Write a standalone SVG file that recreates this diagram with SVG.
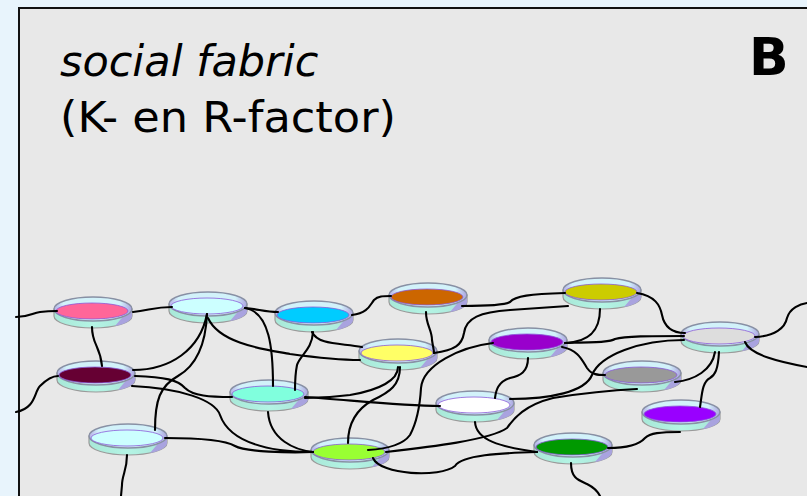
<svg xmlns="http://www.w3.org/2000/svg" width="807" height="496" viewBox="0 0 807 496">
<style>
.t{font-family:"DejaVu Sans",Verdana,sans-serif;font-size:43px;fill:#000}
.b{font-family:"DejaVu Sans",Verdana,sans-serif;font-size:52px;font-weight:bold;fill:#000}
.c path{fill:none;stroke:#000;stroke-width:2.1;stroke-linecap:round}
.in{stroke:#8a5ad8;stroke-width:0.8}
</style>
<defs>
<linearGradient id="teal" x1="0" y1="0" x2="1" y2="0">
<stop offset="0" stop-color="#a8e8d8"/><stop offset="0.5" stop-color="#b4f4e4"/><stop offset="1" stop-color="#a8e4d8"/>
</linearGradient>
<linearGradient id="rim" x1="0" y1="0" x2="1" y2="0">
<stop offset="0" stop-color="#b4ace6"/><stop offset="0.12" stop-color="#d2f2fa"/><stop offset="0.85" stop-color="#d2f2fa"/><stop offset="1" stop-color="#aaa2e0"/>
</linearGradient>
<g id="dish">
<path d="M-39,-2 L-39,5 A39,12 0 0 0 39,5 L39,-2 Z" fill="url(#teal)" stroke="#9a9a9a" stroke-width="1.2"/>
<path d="M22,15 A39,12 0 0 0 39,5 L39,-2 L33,2 Z" fill="#a9a3df"/>
<ellipse cx="0" cy="-2" rx="39" ry="12" fill="url(#rim)" stroke="#8890a4" stroke-width="1.4"/>
</g>
</defs>
<rect x="0" y="0" width="807" height="496" fill="#e8f4fc"/>
<rect x="19" y="8" width="790" height="490" fill="#e8e8e8" stroke="#111" stroke-width="2"/>
<text class="t" x="60" y="76" font-style="italic">social fabric</text>
<text class="t" x="60" y="132" textLength="336" lengthAdjust="spacingAndGlyphs">(K- en R-factor)</text>
<text class="b" x="749" y="75">B</text>
<g id="nodes">
<g id="n1"><use href="#dish" x="93" y="311"/><ellipse class="in" cx="92" cy="311" rx="36" ry="8" fill="#ff6699"/></g>
<g id="n2"><use href="#dish" x="208" y="306"/><ellipse class="in" cx="207" cy="306" rx="36" ry="8" fill="#ccffff"/></g>
<g id="n3"><use href="#dish" x="314" y="315"/><ellipse class="in" cx="313" cy="315" rx="36" ry="8" fill="#00ccff"/></g>
<g id="n4"><use href="#dish" x="428" y="297"/><ellipse class="in" cx="427" cy="297" rx="36" ry="8" fill="#cc6600"/></g>
<g id="n5"><use href="#dish" x="602" y="292"/><ellipse class="in" cx="601" cy="292" rx="36" ry="8" fill="#cccc00"/></g>
<g id="n6"><use href="#dish" x="720" y="336"/><ellipse class="in" cx="719" cy="336" rx="36" ry="8" fill="#dddddd"/></g>
<g id="n7"><use href="#dish" x="398" y="353"/><ellipse class="in" cx="397" cy="353" rx="36" ry="8" fill="#ffff66"/></g>
<g id="n8"><use href="#dish" x="528" y="342"/><ellipse class="in" cx="527" cy="342" rx="36" ry="8" fill="#9900cc"/></g>
<g id="n9"><use href="#dish" x="96" y="375"/><ellipse class="in" cx="95" cy="375" rx="36" ry="8" fill="#660033"/></g>
<g id="n10"><use href="#dish" x="269" y="394"/><ellipse class="in" cx="268" cy="394" rx="36" ry="8" fill="#80ffdd"/></g>
<g id="n11"><use href="#dish" x="642" y="375"/><ellipse class="in" cx="641" cy="375" rx="36" ry="8" fill="#999999"/></g>
<g id="n12"><use href="#dish" x="475" y="405"/><ellipse class="in" cx="474" cy="405" rx="36" ry="8" fill="#ffffff"/></g>
<g id="n13"><use href="#dish" x="681" y="414"/><ellipse class="in" cx="680" cy="414" rx="36" ry="8" fill="#9900ff"/></g>
<g id="n14"><use href="#dish" x="128" y="438"/><ellipse class="in" cx="127" cy="438" rx="36" ry="8" fill="#ccffff"/></g>
<g id="n15"><use href="#dish" x="350" y="452"/><ellipse class="in" cx="349" cy="452" rx="36" ry="8" fill="#99ff33"/></g>
<g id="n16"><use href="#dish" x="573" y="447"/><ellipse class="in" cx="572" cy="447" rx="36" ry="8" fill="#009900"/></g>
</g>
<g id="connectors" class="c">
<path d="M16,317 C30,317 32,313 40,312 S52,311 57,311"/>
<path d="M16,412 C36,408 34,392 40,386 S52,376 58,376"/>
<path d="M133,312 C150,310 155,307 172,307"/>
<path d="M92,327 C92,345 100,345 102,366"/>
<path d="M207,314 C200,350 170,370 133,370"/>
<path d="M207,314 C205,360 185,372 178,376 C160,386 155,400 155,430"/>
<path d="M208,318 C220,345 270,350 290,354 C320,358 340,360 360,360"/>
<path d="M245,308 C258,309 265,312 278,312"/>
<path d="M245,308 C270,312 273,350 273,386"/>
<path d="M352,315 C368,313 370,305 374,300 C378,296 383,296 391,296"/>
<path d="M312,332 C318,345 340,343 362,347"/>
<path d="M313,332 C312,350 300,355 297,365 C295,375 295,385 295,390"/>
<path d="M462,306 C480,306 505,305 510,302 C515,296 530,294 565,293"/>
<path d="M426,312 C426,325 432,330 432,340 C433,347 434,350 434,353"/>
<path d="M434,353 C455,350 462,345 464,333 C466,318 480,312 510,310 C540,308 555,307 568,306"/>
<path d="M398,367 C398,380 380,390 350,395 C335,397 320,398 305,398"/>
<path d="M400,367 C400,385 390,392 373,400 C355,410 348,425 348,443"/>
<path d="M305,397 C350,400 400,406 440,406"/>
<path d="M493,343 C460,347 423,365 421,388 C420,405 418,420 410,435 C402,446 385,449 368,450"/>
<path d="M528,358 C528,372 520,376 510,378 C498,382 496,390 495,398"/>
<path d="M135,376 C165,377 178,380 185,388 C193,396 210,397 232,397"/>
<path d="M132,386 C180,388 215,400 220,415 C226,432 245,445 280,450 C295,452 305,452 313,452"/>
<path d="M165,438 C200,438 225,440 235,446 C245,452 290,453 313,452"/>
<path d="M127,455 C127,470 122,475 122,485 L121,496"/>
<path d="M268,412 C270,440 295,450 313,452"/>
<path d="M386,452 C430,447 490,440 507,428 C514,418 525,405 553,398 C590,392 615,390 637,389"/>
<path d="M475,422 C476,440 500,447 537,452"/>
<path d="M373,458 C380,475 440,478 455,466 C462,455 500,453 537,452"/>
<path d="M510,399 C550,399 585,392 592,375 C600,355 640,340 684,340"/>
<path d="M637,293 C655,296 660,305 662,315 C665,330 675,333 685,333"/>
<path d="M600,309 C600,330 590,342 565,343"/>
<path d="M565,343 C600,342 610,342 615,339 C625,336 650,336 684,336"/>
<path d="M562,347 C578,350 582,360 587,368 C592,375 598,375 605,375"/>
<path d="M755,337 C775,336 785,328 787,318 C790,308 800,304 807,303"/>
<path d="M745,342 C750,355 780,362 807,367"/>
<path d="M715,352 C712,370 695,380 675,382"/>
<path d="M719,352 C718,370 715,375 710,378 C702,382 702,395 700,407"/>
<path d="M680,432 C660,432 650,433 645,438 C638,446 625,448 608,448"/>
<path d="M571,463 C571,478 578,480 587,484 C595,488 598,492 600,496"/>
</g>
</svg>
